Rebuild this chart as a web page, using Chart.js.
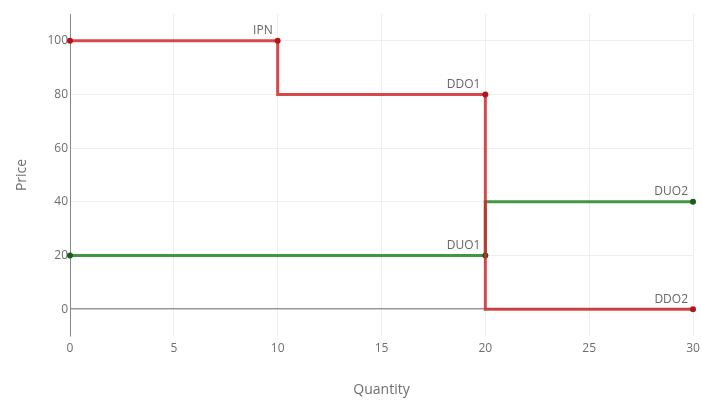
<!DOCTYPE html>
<html>
<head>
<meta charset="utf-8">
<script src="https://cdn.jsdelivr.net/npm/chart.js@4/dist/chart.umd.min.js"></script>
<style>
  html, body { margin: 0; padding: 0; background: #fff; }
  #wrap { width: 702px; height: 401px; }
</style>
</head>
<body>
<div id="wrap"><canvas id="myChart"></canvas></div>
<script>
// supply / demand steps
const redX = [0, 10, 20, 30];
const redY = [100, 100, 80, 0];
const redLabels = ['', 'IPN', 'DDO1', 'DDO2'];

const greenX = [0, 20, 30];
const greenY = [20, 20, 40];
const greenLabels = ['', 'DUO1', 'DUO2'];

const xTicks = [0, 5, 10, 15, 20, 25, 30];
const yTicks = [0, 20, 40, 60, 80, 100];

function toPoints(xs, ys) {
  return xs.map(function(x, i) { return { x: x, y: ys[i] }; });
}

/* text next to the points */
const pointText = {
  id: 'pointText',
  afterDatasetsDraw: function(chart) {
    const ctx = chart.ctx;
    ctx.save();
    ctx.font = '12px "Open Sans"';
    ctx.fillStyle = '#666';
    ctx.textAlign = 'right';
    ctx.textBaseline = 'bottom';
    chart.data.datasets.forEach(function(ds, i) {
      chart.getDatasetMeta(i).data.forEach(function(pt, j) {
        const txt = ds.labels[j];
        if (txt) ctx.fillText(txt, pt.x - 5, pt.y - 4);
      });
    });
    ctx.restore();
  }
};

Chart.defaults.font.family = '"Open Sans", sans-serif';
Chart.defaults.color = '#6e6e6e';

new Chart(document.getElementById('myChart'), {
  type: 'line',
  data: {
    datasets: [{
      data: toPoints(redX, redY),
      labels: redLabels,
      order: 0,
      stepped: 'after',
      borderColor: 'rgba(210, 40, 45, 0.85)',
      borderWidth: 3,
      pointRadius: 3,
      pointBackgroundColor: '#b3141b',
      pointBorderWidth: 0,
      clip: false
    }, {
      data: toPoints(greenX, greenY),
      labels: greenLabels,
      order: 1,
      stepped: 'after',
      borderColor: 'rgba(45, 140, 45, 0.9)',
      borderWidth: 3,
      pointRadius: 3,
      pointBackgroundColor: '#1f5a1f',
      pointBorderWidth: 0,
      clip: false
    }]
  },
  options: {
    responsive: true,
    maintainAspectRatio: false,
    animation: false,
    layout: { padding: { top: 14, right: 9, left: 0, bottom: 0 } },
    plugins: { legend: { display: false }, tooltip: { enabled: false } },
    scales: {
      x: {
        type: 'linear',
        min: 0,
        max: 30,
        afterBuildTicks: function(scale) {
          scale.ticks = xTicks.map(function(v) { return { value: v }; });
        },
        afterFit: function(scale) {
          scale.height = 65;
          scale.paddingLeft = 0;
          scale.paddingRight = 0;
        },
        border: { display: false },
        grid: { color: '#eeeeee', drawTicks: false },
        ticks: { padding: 5, font: { size: 12 }, maxRotation: 0 },
        title: { display: true, text: 'Quantity', font: { size: 14 }, padding: { top: 0, bottom: 3 } }
      },
      y: {
        min: -10,
        max: 110,
        afterBuildTicks: function(scale) {
          scale.ticks = yTicks.map(function(v) { return { value: v }; });
        },
        afterFit: function(scale) { scale.width = 70; },
        border: { display: true, color: '#888', width: 1 },
        grid: {
          drawTicks: false,
          color: function(c) { return c.tick && c.tick.value === 0 ? '#999' : '#eeeeee'; },
          lineWidth: function(c) { return c.tick && c.tick.value === 0 ? 1.5 : 1; }
        },
        ticks: { padding: 2, font: { size: 12 } },
        title: { display: true, text: 'Price', font: { size: 14 }, padding: { top: 14, bottom: 0 } }
      }
    }
  },
  plugins: [pointText]
});
</script>
</body>
</html>
